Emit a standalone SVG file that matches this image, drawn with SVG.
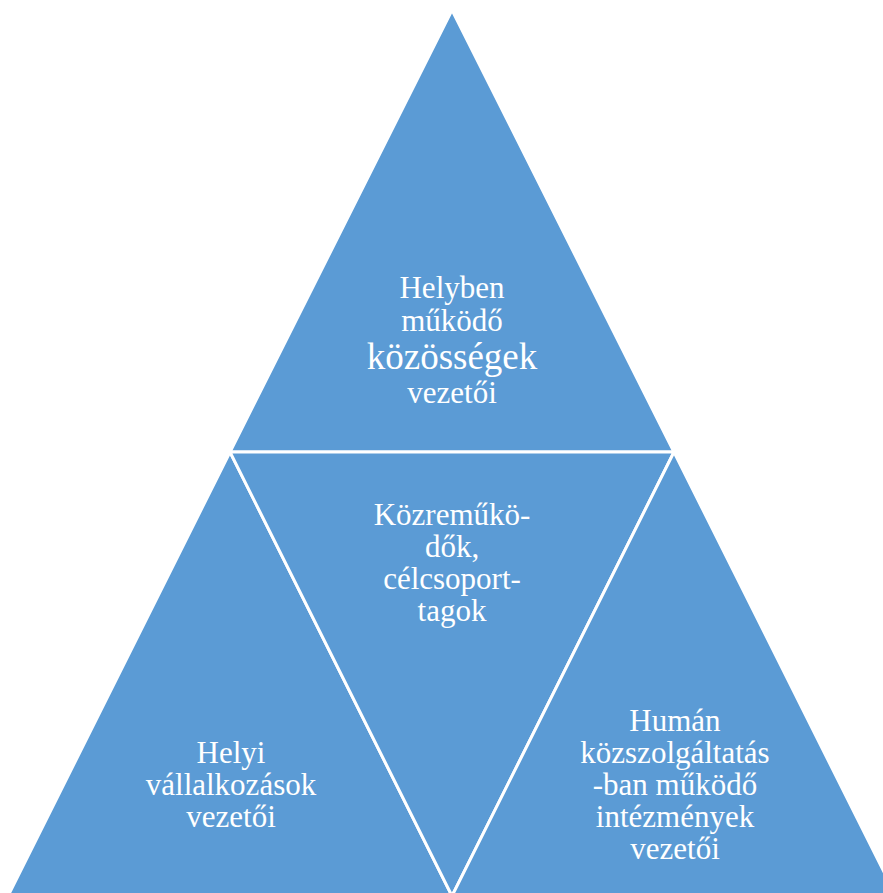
<svg xmlns="http://www.w3.org/2000/svg" width="883" height="893" viewBox="0 0 883 893">
<style>
.tri{fill:#5B9BD5;stroke:#FFFFFF;stroke-width:3;stroke-linejoin:miter}
.t{font-family:"Liberation Serif","Times New Roman",serif;font-size:31px;fill:#FFFFFF;text-anchor:middle}
.big{font-size:37px}
</style>
<rect width="883" height="893" fill="#FFFFFF"/>
<g id="top">
<polygon class="tri" points="452,10 230,452 674,452"/>
<text class="t" x="452" y="298">Helyben</text>
<text class="t" x="452" y="331">működő</text>
<text class="t big" x="452" y="369">közösségek</text>
<text class="t" x="452" y="403">vezetői</text>
</g>
<g id="left">
<polygon class="tri" points="230,452 8,896 452,896"/>
<text class="t" x="231" y="763">Helyi</text>
<text class="t" x="231" y="795">vállalkozások</text>
<text class="t" x="231" y="827">vezetői</text>
</g>
<g id="center">
<polygon class="tri" points="230,452 674,452 452,896"/>
<text class="t" x="452" y="525">Közreműkö-</text>
<text class="t" x="452" y="557">dők,</text>
<text class="t" x="452" y="589">célcsoport-</text>
<text class="t" x="452" y="621">tagok</text>
</g>
<g id="right">
<polygon class="tri" points="674,452 452,896 896,896"/>
<text class="t" x="675" y="731">Humán</text>
<text class="t" x="675" y="763">közszolgáltatás</text>
<text class="t" x="675" y="795">-ban működő</text>
<text class="t" x="675" y="827">intézmények</text>
<text class="t" x="675" y="859">vezetői</text>
</g>
<g id="connectors"></g>
</svg>
